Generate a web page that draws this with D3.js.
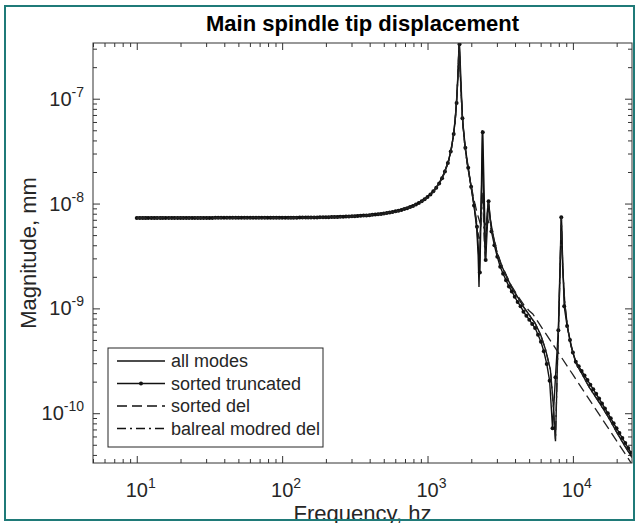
<!DOCTYPE html>
<html lang="en">
  <head>
    <script src="https://d3js.org/d3.v7.min.js"></script>
    <meta charset="UTF-8" />
    <title>Main spindle tip displacement</title>
    <style>
      body { margin: 0; background: #fff; }
      text { font-family: "Liberation Sans", Arial, sans-serif; fill: #262626; }
    </style>
  </head>
  <body>
    <svg width="636" height="523"></svg>
    <script>
      // x ticks and exponents
      var xMajor = [10, 100, 1000, 10000];
      var xExp = ["1", "2", "3", "4"];
      var yMajor = [1e-10, 1e-9, 1e-8, 1e-7];
      var yExp = ["-10", "-9", "-8", "-7"];

      var legendNames = ["all modes", "sorted truncated", "sorted del", "balreal modred del"];

      // sorted truncated (drawn with a dot on every sample)
      var truncFreq = [10, 10.5, 11, 11.5, 12, 12.6, 13.2, 13.8, 14.5, 15.1, 15.8, 16.6, 17.4, 18.2, 19.1,
        20, 20.9, 21.9, 22.9, 24, 25.1, 26.3, 27.5, 28.8, 30.2, 31.6, 33.1, 34.7, 36.3, 38, 39.8, 41.7,
        43.7, 45.7, 47.9, 50.1, 52.5, 55, 57.5, 60.3, 63.1, 66.1, 69.2, 72.4, 75.9, 79.4, 83.2, 87.1,
        91.2, 95.5, 100, 105, 110, 115, 120, 126, 132, 138, 145, 151, 158, 166, 174, 182, 191, 200, 209,
        219, 229, 240, 251, 263, 275, 288, 302, 316, 331, 347, 363, 380, 398, 417, 437, 457, 479, 501,
        525, 550, 575, 603, 631, 661, 692, 724, 759, 794, 832, 871, 912, 955, 1000, 1047, 1096, 1148,
        1202, 1259, 1318, 1380, 1445, 1514, 1585, 1660, 1738, 1820, 1905, 1995, 2089, 2188, 2291, 2399,
        2512, 2630, 2754, 2884, 3020, 3162, 3311, 3467, 3631, 3802, 3981, 4169, 4365, 4571, 4786, 5012,
        5248, 5495, 5754, 6026, 6310, 6607, 6918, 7244, 7586, 7943, 8318, 8710, 9120, 9550, 10000,
        10470, 10960, 11480, 12020, 12590, 13180, 13800, 14450, 15140, 15850, 16600, 17380, 18200,
        19050, 19950, 20890, 21880, 22910, 23990, 25120];
      var truncVals = [7.30e-9, 7.30e-9, 7.30e-9, 7.30e-9, 7.30e-9, 7.30e-9, 7.30e-9, 7.30e-9, 7.30e-9,
        7.30e-9, 7.30e-9, 7.30e-9, 7.30e-9, 7.30e-9, 7.30e-9, 7.30e-9, 7.30e-9, 7.30e-9, 7.30e-9,
        7.30e-9, 7.30e-9, 7.30e-9, 7.30e-9, 7.30e-9, 7.30e-9, 7.30e-9, 7.30e-9, 7.31e-9, 7.31e-9,
        7.31e-9, 7.31e-9, 7.31e-9, 7.31e-9, 7.31e-9, 7.31e-9, 7.31e-9, 7.31e-9, 7.31e-9, 7.31e-9,
        7.31e-9, 7.31e-9, 7.31e-9, 7.31e-9, 7.32e-9, 7.32e-9, 7.32e-9, 7.32e-9, 7.32e-9, 7.32e-9,
        7.33e-9, 7.33e-9, 7.33e-9, 7.33e-9, 7.34e-9, 7.34e-9, 7.34e-9, 7.35e-9, 7.35e-9, 7.36e-9,
        7.36e-9, 7.37e-9, 7.37e-9, 7.38e-9, 7.39e-9, 7.40e-9, 7.41e-9, 7.42e-9, 7.43e-9, 7.44e-9,
        7.46e-9, 7.47e-9, 7.49e-9, 7.51e-9, 7.53e-9, 7.55e-9, 7.58e-9, 7.61e-9, 7.64e-9, 7.67e-9,
        7.71e-9, 7.75e-9, 7.80e-9, 7.85e-9, 7.91e-9, 7.97e-9, 8.04e-9, 8.12e-9, 8.21e-9, 8.31e-9,
        8.43e-9, 8.56e-9, 8.70e-9, 8.86e-9, 9.04e-9, 9.26e-9, 9.50e-9, 9.79e-9, 1.012e-8, 1.052e-8,
        1.098e-8, 1.154e-8, 1.222e-8, 1.307e-8, 1.415e-8, 1.556e-8, 1.747e-8, 2.02e-8, 2.43e-8,
        3.13e-8, 4.6e-8, 9.1e-8, 3.3e-7, 6.5e-8, 3.4e-8, 2.2e-8, 1.45e-8, 9.6e-9, 6.0e-9, 2.2e-9,
        4.8e-8, 2.9e-9, 1.05e-8, 5.4e-9, 4.0e-9, 3.1e-9, 2.5e-9, 2.14e-9, 1.86e-9, 1.62e-9, 1.45e-9,
        1.29e-9, 1.15e-9, 1.05e-9, 9.3e-10, 8.5e-10, 7.8e-10, 7.1e-10, 6.5e-10, 5.6e-10, 4.8e-10,
        3.9e-10, 2.95e-10, 2.04e-10, 7.2e-11, 2.2e-10, 6.2e-10, 7.4e-9, 1.05e-9, 6.8e-10, 5.0e-10,
        3.8e-10, 3.1e-10, 2.8e-10, 2.53e-10, 2.29e-10, 2.07e-10, 1.87e-10, 1.69e-10, 1.53e-10,
        1.38e-10, 1.24e-10, 1.11e-10, 1.0e-10, 8.96e-11, 8.0e-11, 7.2e-11, 6.46e-11, 5.8e-11, 5.2e-11,
        4.67e-11, 4.19e-11];

      // all modes / balreal modred del share one frequency list
      var lineFreq = [10, 20, 50, 100, 200, 300, 400, 500, 600, 700, 800, 900, 1000, 1100, 1200, 1300,
        1400, 1450, 1500, 1550, 1600, 1630, 1650, 1670, 1700, 1750, 1800, 1850, 1900, 2000, 2100, 2180,
        2230, 2260, 2300, 2350, 2380, 2420, 2460, 2500, 2560, 2620, 2700, 2800, 3000, 3200, 3500, 3800,
        4200, 4600, 5000, 5500, 6000, 6500, 7000, 7300, 7590, 7800, 8000, 8200, 8330, 8500, 8800, 9200,
        9700, 10500, 11500, 13000, 15000, 17500, 20000, 22500, 25500];
      var allModes = [7.40e-9, 7.40e-9, 7.41e-9, 7.43e-9, 7.51e-9, 7.65e-9, 7.86e-9, 8.14e-9, 8.51e-9,
        9.0e-9, 9.65e-9, 1.05e-8, 1.165e-8, 1.32e-8, 1.56e-8, 1.95e-8, 2.62e-8, 3.22e-8, 4.25e-8,
        6.2e-8, 1.2e-7, 2.25e-7, 3.4e-7, 2.2e-7, 1.17e-7, 5.8e-8, 3.8e-8, 2.8e-8, 2.2e-8, 1.4e-8,
        9.0e-9, 5.8e-9, 3.2e-9, 1.6e-9, 4.5e-9, 1.5e-8, 5.0e-8, 1.4e-8, 5.5e-9, 2.9e-9, 7.5e-9,
        1.07e-8, 7.2e-9, 5.3e-9, 3.4e-9, 2.63e-9, 2.0e-9, 1.58e-9, 1.26e-9, 1.02e-9, 8.7e-10, 7.2e-10,
        5.6e-10, 4.0e-10, 2.6e-10, 1.3e-10, 5.4e-11, 2.5e-10, 8.0e-10, 3.0e-9, 7.6e-9, 2.5e-9, 1.1e-9,
        6.5e-10, 4.4e-10, 3.0e-10, 2.4e-10, 1.75e-10, 1.3e-10, 9.2e-11, 6.6e-11, 5.0e-11, 3.8e-11];
      var balreal = [7.32e-9, 7.32e-9, 7.33e-9, 7.35e-9, 7.43e-9, 7.57e-9, 7.78e-9, 8.06e-9, 8.43e-9,
        8.92e-9, 9.57e-9, 1.04e-8, 1.155e-8, 1.31e-8, 1.55e-8, 1.94e-8, 2.6e-8, 3.2e-8, 4.2e-8,
        6.1e-8, 1.18e-7, 2.2e-7, 3.4e-7, 2.15e-7, 1.15e-7, 5.7e-8, 3.75e-8, 2.75e-8, 2.15e-8, 1.42e-8,
        9.5e-9, 6.6e-9, 5.2e-9, 4.6e-9, 5.0e-9, 7.5e-9, 1.3e-8, 8.0e-9, 4.2e-9, 3.0e-9, 7.0e-9,
        1.02e-8, 7.0e-9, 5.2e-9, 3.4e-9, 2.63e-9, 2.0e-9, 1.58e-9, 1.26e-9, 1.02e-9, 8.7e-10, 7.2e-10,
        5.6e-10, 4.0e-10, 2.6e-10, 1.3e-10, 5.6e-11, 2.5e-10, 8.0e-10, 3.0e-9, 7.5e-9, 2.5e-9, 1.1e-9,
        6.5e-10, 4.4e-10, 3.0e-10, 2.4e-10, 1.75e-10, 1.3e-10, 9.2e-11, 6.6e-11, 5.0e-11, 3.8e-11];

      // sorted del (dashed)
      var delFreq = [10, 100, 200, 300, 400, 500, 600, 700, 800, 900, 1000, 1100, 1200, 1300, 1400, 1450,
        1500, 1550, 1600, 1630, 1650, 1670, 1700, 1750, 1800, 1850, 1900, 2000, 2100, 2200, 2300, 2400,
        2500, 2600, 2700, 2800, 3000, 3200, 3500, 3800, 4200, 4600, 5000, 5300, 6000, 7000, 8000, 10000,
        12000, 15000, 18000, 21000, 25500];
      var sortedDel = [7.2e-9, 7.23e-9, 7.3e-9, 7.45e-9, 7.65e-9, 7.93e-9, 8.3e-9, 8.8e-9, 9.4e-9,
        1.025e-8, 1.14e-8, 1.29e-8, 1.53e-8, 1.9e-8, 2.55e-8, 3.15e-8, 4.1e-8, 6.1e-8, 1.18e-7, 2.2e-7,
        3.4e-7, 2.15e-7, 1.15e-7, 5.7e-8, 3.75e-8, 2.75e-8, 2.15e-8, 1.45e-8, 1.05e-8, 8.0e-9, 6.5e-9,
        6.0e-9, 6.3e-9, 7.0e-9, 6.0e-9, 5.2e-9, 3.5e-9, 2.7e-9, 2.05e-9, 1.62e-9, 1.3e-9, 1.08e-9,
        9.5e-10, 8.85e-10, 6.8e-10, 4.93e-10, 3.72e-10, 2.33e-10, 1.59e-10, 9.95e-11, 6.8e-11, 4.9e-11,
        3.26e-11];

      var svg = d3.select("svg");
      var plotL = 93, plotR = 632, plotT = 43, plotB = 463;

      var x = d3.scaleLog().domain([5, 25500]).range([plotL, plotR]);
      var y = d3.scaleLog().domain([3.35e-11, 3.4e-7]).range([plotB, plotT]);

      svg.append("rect").attr("width", 636).attr("height", 523).attr("fill", "#fff");

      svg.append("defs").append("clipPath").attr("id", "plotclip")
        .append("rect").attr("x", plotL).attr("y", plotT)
        .attr("width", plotR - plotL).attr("height", plotB - plotT);

      var minorX = x.ticks().filter(function (d) { return xMajor.indexOf(d) < 0; });
      var minorY = y.ticks().filter(function (d) {
        return !yMajor.some(function (m) { return Math.abs(d / m - 1) < 1e-6; });
      });

      function tickAxis(axis, tr, vals, size) {
        var g = svg.append("g").attr("transform", tr)
          .call(axis.tickValues(vals).tickSize(size).tickSizeOuter(0).tickFormat(""));
        g.select(".domain").remove();
        g.selectAll("line").attr("stroke", "#333").attr("stroke-width", 1);
      }
      // ticks point inward on all four sides
      tickAxis(d3.axisBottom(x), "translate(0," + plotB + ")", xMajor, -7);
      tickAxis(d3.axisBottom(x), "translate(0," + plotB + ")", minorX, -4);
      tickAxis(d3.axisTop(x), "translate(0," + plotT + ")", xMajor, -7);
      tickAxis(d3.axisTop(x), "translate(0," + plotT + ")", minorX, -4);
      tickAxis(d3.axisLeft(y), "translate(" + plotL + ",0)", yMajor, -7);
      tickAxis(d3.axisLeft(y), "translate(" + plotL + ",0)", minorY, -4);
      tickAxis(d3.axisRight(y), "translate(" + plotR + ",0)", yMajor, -7);
      tickAxis(d3.axisRight(y), "translate(" + plotR + ",0)", minorY, -4);

      // tick labels 10^n
      xMajor.forEach(function (v, i) {
        var t = svg.append("text").attr("x", x(v) + 4).attr("y", 497)
          .attr("text-anchor", "middle").attr("font-size", "20px");
        t.append("tspan").text("10");
        t.append("tspan").attr("dy", -9).attr("font-size", "14px").text(xExp[i]);
      });
      yMajor.forEach(function (v, i) {
        var t = svg.append("text").attr("x", 84).attr("y", y(v) + 7)
          .attr("text-anchor", "end").attr("font-size", "20px");
        t.append("tspan").text("10");
        t.append("tspan").attr("dy", -9).attr("font-size", "14px").text(yExp[i]);
      });

      var plot = svg.append("g").attr("clip-path", "url(#plotclip)");

      function series(fr, vals) {
        return fr.map(function (f, i) { return [f, vals[i]]; });
      }
      var line = d3.line()
        .x(function (d) { return x(d[0]); })
        .y(function (d) { return y(d[1]); });

      plot.append("path").datum(series(lineFreq, allModes)).attr("d", line)
        .attr("fill", "none").attr("stroke", "#111").attr("stroke-width", 1.4);

      var trunc = series(truncFreq, truncVals);
      plot.append("path").datum(trunc).attr("d", line)
        .attr("fill", "none").attr("stroke", "#111").attr("stroke-width", 1.4);
      plot.selectAll(".dot").data(trunc).enter().append("circle")
        .attr("class", "dot")
        .attr("cx", function (d) { return x(d[0]); })
        .attr("cy", function (d) { return y(d[1]); })
        .attr("r", 2).attr("fill", "#111");

      plot.append("path").datum(series(delFreq, sortedDel)).attr("d", line)
        .attr("fill", "none").attr("stroke", "#222").attr("stroke-width", 1.3)
        .attr("stroke-dasharray", "10,5");

      plot.append("path").datum(series(lineFreq, balreal)).attr("d", line)
        .attr("fill", "none").attr("stroke", "#222").attr("stroke-width", 1.3)
        .attr("stroke-dasharray", "9,4,2,4");

      // axes box
      svg.append("rect").attr("x", plotL).attr("y", plotT)
        .attr("width", plotR - plotL).attr("height", plotB - plotT)
        .attr("fill", "none").attr("stroke", "#333").attr("stroke-width", 1);

      // legend
      var lg = svg.append("g");
      lg.append("rect").attr("x", 108).attr("y", 348).attr("width", 215).attr("height", 99)
        .attr("fill", "#fff").attr("stroke", "#262626").attr("stroke-width", 1);
      var dashes = [null, null, "10,5", "9,4,2,4"];
      legendNames.forEach(function (name, i) {
        var yy = 361 + i * 22.5;
        lg.append("line").attr("x1", 117).attr("x2", 165).attr("y1", yy).attr("y2", yy)
          .attr("stroke", "#111").attr("stroke-width", 1.3)
          .attr("stroke-dasharray", dashes[i]);
        if (i === 1) {
          lg.append("circle").attr("cx", 141).attr("cy", yy).attr("r", 2).attr("fill", "#111");
        }
        lg.append("text").attr("x", 171).attr("y", yy + 6).attr("font-size", "18px").text(name);
      });

      // titles
      svg.append("text").attr("x", (plotL + plotR) / 2).attr("y", 31)
        .attr("text-anchor", "middle").attr("font-size", "22px").attr("font-weight", "bold")
        .style("fill", "#000").text("Main spindle tip displacement");
      svg.append("text").attr("x", (plotL + plotR) / 2).attr("y", 521)
        .attr("text-anchor", "middle").attr("font-size", "22px").text("Frequency, hz");
      svg.append("text").attr("transform", "translate(36," + (plotT + plotB) / 2 + ") rotate(-90)")
        .attr("text-anchor", "middle").attr("font-size", "22px").text("Magnitude, mm");

      // frame round the picture
      svg.append("rect").attr("x", 5).attr("y", 6).attr("width", 629).attr("height", 514)
        .attr("fill", "none").attr("stroke", "#1f7a78").attr("stroke-width", 2);
    </script>
  </body>
</html>
